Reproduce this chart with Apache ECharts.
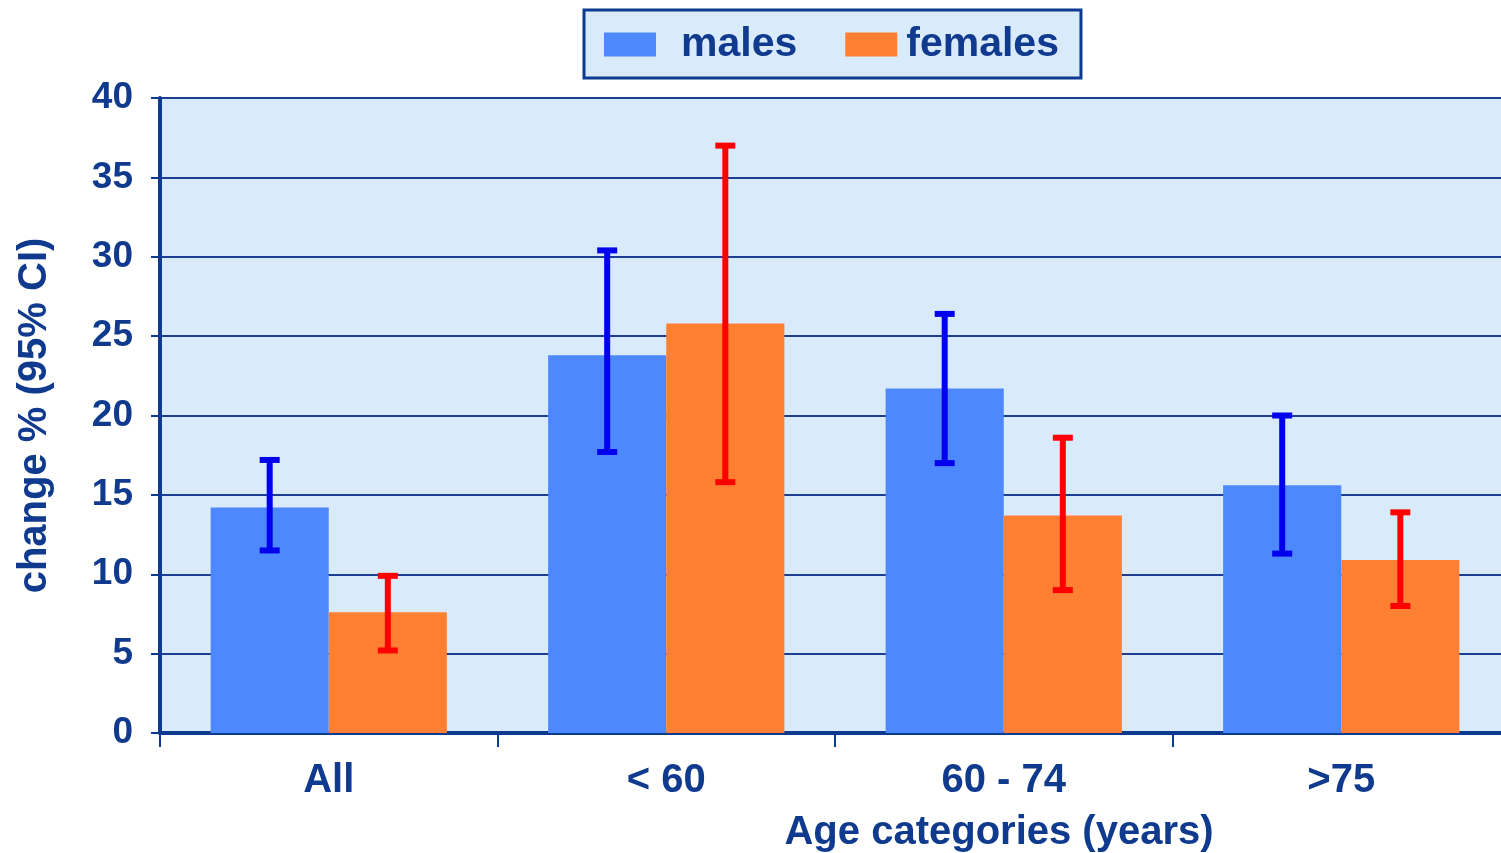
<!DOCTYPE html>
<html><head><meta charset="utf-8">
<script src="https://cdn.jsdelivr.net/npm/echarts@6/dist/echarts.min.js"></script>
<style>html,body{margin:0;padding:0;background:#fff}#c{width:1501px;height:853px}</style>
</head><body><div id="c"></div>
<script>
const categories = ['All', '< 60', '60 - 74', '>75'];
const malesValues = [14.2, 23.8, 21.7, 15.6];
const malesLow = [11.5, 17.7, 17.0, 11.3];
const malesHigh = [17.2, 30.4, 26.4, 20.0];
const femalesValues = [7.6, 25.8, 13.7, 10.9];
const femalesLow = [5.2, 15.8, 9.0, 8.0];
const femalesHigh = [9.9, 37.0, 18.6, 13.9];
const yTicks = [0, 5, 10, 15, 20, 25, 30, 35, 40];
const categoryIndex = categories.map((c, i) => i);
const categoryBoundaries = [-0.5, 0.5, 1.5, 2.5];

const TXT = '#0f3a8e';
const AX = '#0b3a8f';
const FONT = '"Liberation Sans", Arial, sans-serif';

const chart = echarts.init(document.getElementById('c'));

function errorSeries(name, low, high, color, offsetSign) {
  return {
    type: 'custom',
    name: name + ' CI',
    silent: true,
    z: 10,
    data: categoryIndex.map(i => [i, low[i], high[i]]),
    renderItem: function (params, api) {
      const i = api.value(0);
      const lo = api.coord([i, api.value(1)]);
      const hi = api.coord([i, api.value(2)]);
      const band = api.size([1, 0])[0];
      const barW = band * 0.35;
      const x = lo[0] + offsetSign * barW / 2;
      const cap = 10;
      const st = { stroke: color, lineWidth: 6 };
      return {
        type: 'group',
        children: [
          { type: 'line', shape: { x1: x, y1: hi[1], x2: x, y2: lo[1] }, style: st },
          { type: 'line', shape: { x1: x - cap, y1: hi[1], x2: x + cap, y2: hi[1] }, style: st },
          { type: 'line', shape: { x1: x - cap, y1: lo[1], x2: x + cap, y2: lo[1] }, style: st }
        ]
      };
    }
  };
}

chart.setOption({
  animation: false,
  textStyle: { fontFamily: FONT },
  legend: {
    data: [{ name: 'males', icon: 'rect' }, { name: 'females', icon: 'rect' }],
    top: 10,
    left: 584,
    padding: [14, 22, 13, 20],
    backgroundColor: '#d9eafa',
    borderColor: AX,
    borderWidth: 3,
    borderRadius: 0,
    itemWidth: 52,
    itemHeight: 24,
    itemGap: 48,
    formatter: name => name === 'males' ? '{m|males}' : '{f|females}',
    textStyle: {
      color: TXT, fontSize: 41, fontWeight: 'bold', fontFamily: FONT,
      rich: {
        m: { color: TXT, fontSize: 41, fontWeight: 'bold', fontFamily: FONT, padding: [0, 0, 0, 20] },
        f: { color: TXT, fontSize: 41, fontWeight: 'bold', fontFamily: FONT, padding: [0, 0, 0, 4] }
      }
    }
  },
  grid: {
    left: 160, top: 98, bottom: 120, right: 0,
    outerBoundsMode: 'none', containLabel: false,
    show: true, backgroundColor: '#d9eafa', borderWidth: 0
  },
  xAxis: {
    type: 'value',
    min: -0.5,
    max: 3.4733,
    name: 'Age categories (years)',
    nameLocation: 'middle',
    nameGap: 80,
    nameTextStyle: { color: TXT, fontSize: 40, fontWeight: 'bold', fontFamily: FONT, padding: [0, 0, 0, 337] },
    axisLine: { show: true, onZero: false, lineStyle: { color: AX, width: 4 } },
    axisTick: { show: true, customValues: categoryBoundaries, length: 14, lineStyle: { color: AX, width: 2 } },
    splitLine: { show: false },
    axisLabel: {
      customValues: categoryIndex,
      color: TXT, fontSize: 40, fontWeight: 'bold', fontFamily: FONT, margin: 28,
      formatter: v => categories[Math.round(v)]
    }
  },
  yAxis: {
    type: 'value',
    min: 0, max: 40, interval: 5,
    name: 'change % (95% CI)',
    nameLocation: 'middle',
    nameGap: 105,
    nameRotate: 90,
    nameTextStyle: { color: TXT, fontSize: 40, fontWeight: 'bold', fontFamily: FONT },
    axisLine: { show: true, onZero: false, lineStyle: { color: AX, width: 4 } },
    axisTick: { show: true, length: 9, lineStyle: { color: AX, width: 2 } },
    splitLine: { show: true, lineStyle: { color: '#1c3f92', width: 2 } },
    axisLabel: {
      color: TXT, fontSize: 37, fontWeight: 'bold', fontFamily: FONT, margin: 27,
      formatter: v => yTicks.includes(v) ? String(v) : ''
    }
  },
  series: [
    {
      name: 'males', type: 'bar', data: categoryIndex.map(i => [i, malesValues[i]]),
      barGap: '0%', barCategoryGap: '30%',
      itemStyle: { color: '#4d88ff' }
    },
    {
      name: 'females', type: 'bar', data: categoryIndex.map(i => [i, femalesValues[i]]),
      barGap: '0%', barCategoryGap: '30%',
      itemStyle: { color: '#ff8033' }
    },
    errorSeries('males', malesLow, malesHigh, '#0000ee', -1),
    errorSeries('females', femalesLow, femalesHigh, '#ff0000', 1)
  ]
});
</script></body></html>
